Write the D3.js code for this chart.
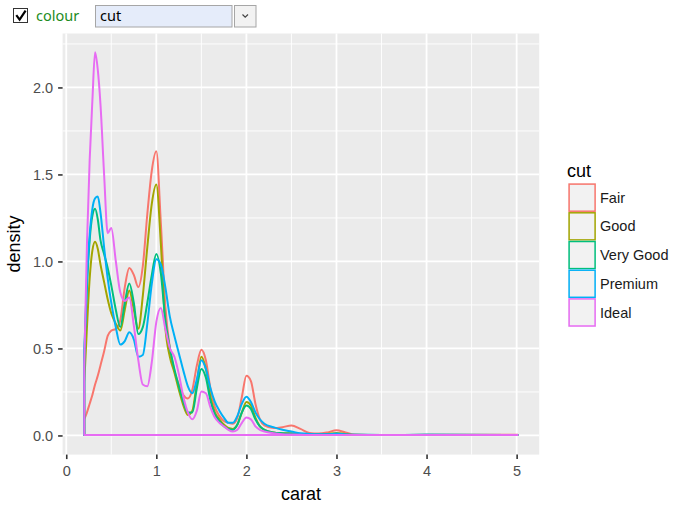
<!DOCTYPE html>
<html>
<head>
<meta charset="utf-8">
<script src="https://cdn.jsdelivr.net/npm/d3@7"></script>
<style>
  html, body { margin: 0; padding: 0; background: #ffffff; }
  svg { display: block; }
</style>
</head>
<body>
<svg id="chart" width="684" height="506"></svg>
<script>
// ---------------- data ----------------
const cuts = ["Fair", "Good", "Very Good", "Premium", "Ideal"];
const colours = ["#F8766D", "#A3A500", "#00BF7D", "#00B0F6", "#E76BF3"];

const carat = [0.20, 0.23, 0.26, 0.29, 0.32, 0.35, 0.38, 0.42, 0.46, 0.50,
  0.55, 0.60, 0.65, 0.70, 0.75, 0.80, 0.85, 0.90, 0.95, 1.00,
  1.05, 1.10, 1.15, 1.20, 1.25, 1.30, 1.35, 1.40, 1.45, 1.50,
  1.55, 1.60, 1.65, 1.70, 1.75, 1.80, 1.85, 1.90, 1.95, 2.00,
  2.05, 2.10, 2.15, 2.20, 2.30, 2.40, 2.50, 2.60, 2.70, 2.80,
  2.90, 3.00, 3.10, 3.20, 3.50, 4.00, 5.01];

const fair = [0.09, 0.13, 0.18, 0.23, 0.29, 0.34, 0.40, 0.48, 0.57, 0.60,
  0.61, 0.66, 0.85, 0.96, 0.92, 0.85, 0.97, 1.27, 1.52, 1.63,
  1.22, 0.74, 0.50, 0.37, 0.29, 0.23, 0.21, 0.26, 0.40, 0.49,
  0.43, 0.27, 0.16, 0.11, 0.08, 0.07, 0.065, 0.10, 0.22, 0.34,
  0.31, 0.18, 0.09, 0.055, 0.04, 0.045, 0.055, 0.035, 0.012, 0.008,
  0.015, 0.028, 0.015, 0.003, 0.0, 0.001, 0.002];

const good = [0.30, 0.62, 0.90, 1.06, 1.11, 1.07, 0.98, 0.88, 0.78, 0.70,
  0.64, 0.60, 0.72, 0.83, 0.72, 0.61, 0.80, 1.08, 1.33, 1.44,
  1.10, 0.62, 0.45, 0.36, 0.26, 0.17, 0.115, 0.14, 0.30, 0.45,
  0.38, 0.22, 0.13, 0.09, 0.06, 0.04, 0.035, 0.06, 0.13, 0.19,
  0.17, 0.10, 0.05, 0.03, 0.015, 0.01, 0.01, 0.005, 0.003, 0.003,
  0.006, 0.012, 0.005, 0.0, 0.0, 0.0, 0.0];

const veryGood = [0.45, 0.85, 1.12, 1.26, 1.30, 1.24, 1.12, 1.04, 0.96, 0.86,
  0.72, 0.62, 0.76, 0.87, 0.76, 0.58, 0.62, 0.76, 0.92, 1.04,
  0.93, 0.66, 0.50, 0.38, 0.28, 0.19, 0.13, 0.13, 0.27, 0.38,
  0.33, 0.20, 0.12, 0.08, 0.05, 0.035, 0.03, 0.06, 0.13, 0.17,
  0.15, 0.09, 0.05, 0.03, 0.015, 0.01, 0.007, 0.004, 0.003, 0.003,
  0.004, 0.006, 0.003, 0.001, 0.0, 0.001, 0.0];

const premium = [0.48, 0.90, 1.15, 1.30, 1.36, 1.37, 1.28, 1.08, 0.90, 0.76,
  0.62, 0.52, 0.54, 0.59, 0.55, 0.45, 0.46, 0.64, 0.87, 1.01,
  0.98, 0.85, 0.68, 0.57, 0.47, 0.37, 0.28, 0.24, 0.32, 0.43,
  0.38, 0.27, 0.19, 0.14, 0.10, 0.07, 0.07, 0.11, 0.18, 0.22,
  0.19, 0.13, 0.09, 0.065, 0.045, 0.03, 0.02, 0.01, 0.006, 0.004,
  0.004, 0.008, 0.003, 0.001, 0.0, 0.001, 0.0];

const ideal = [0.40, 1.10, 1.58, 1.92, 2.20, 2.10, 1.90, 1.50, 1.16, 1.19,
  1.00, 0.82, 0.77, 0.79, 0.63, 0.43, 0.29, 0.28, 0.42, 0.65,
  0.73, 0.61, 0.50, 0.45, 0.35, 0.22, 0.13, 0.09, 0.14, 0.25,
  0.24, 0.16, 0.10, 0.07, 0.05, 0.03, 0.02, 0.03, 0.07, 0.10,
  0.09, 0.05, 0.03, 0.02, 0.01, 0.005, 0.003, 0.001, 0.0, 0.0,
  0.0, 0.0, 0.0, 0.0, 0.0, 0.0, 0.0];

const densities = [fair, good, veryGood, premium, ideal];
const xTicks = [0, 1, 2, 3, 4, 5];
const yTicks = [0, 0.5, 1.0, 1.5, 2.0];
const xTitle = "carat";
const yTitle = "density";
const legendTitle = "cut";

// ---------------- layout ----------------
const panel = { left: 62.6, top: 33.5, right: 539.2, bottom: 454.6 };
const svg = d3.select("#chart");
const FONT = "'Liberation Sans', Arial, sans-serif";

const xMin = d3.min(carat), xMax = d3.max(carat);
const xPad = (xMax - xMin) * 0.05;
const yMax = d3.max(densities, s => d3.max(s));
const yPad = yMax * 0.05;

const x = d3.scaleLinear().domain([xMin - xPad, xMax + xPad]).range([panel.left, panel.right]);
const y = d3.scaleLinear().domain([0 - yPad, yMax + yPad]).range([panel.bottom, panel.top]);

// panel background
svg.append("rect")
  .attr("x", panel.left).attr("y", panel.top)
  .attr("width", panel.right - panel.left).attr("height", panel.bottom - panel.top)
  .attr("fill", "#EBEBEB");

// grid
const grid = svg.append("g");
const xMinor = d3.range(0.5, 5.25, 1);
const yMinor = d3.range(0.25, yMax + yPad, 0.5);
grid.selectAll(".xminor").data(xMinor).join("line")
  .attr("x1", d => x(d)).attr("x2", d => x(d))
  .attr("y1", panel.top).attr("y2", panel.bottom)
  .attr("stroke", "#fff").attr("stroke-width", 0.9);
grid.selectAll(".yminor").data(yMinor).join("line")
  .attr("y1", d => y(d)).attr("y2", d => y(d))
  .attr("x1", panel.left).attr("x2", panel.right)
  .attr("stroke", "#fff").attr("stroke-width", 0.9);
grid.selectAll(".xmajor").data(xTicks).join("line")
  .attr("x1", d => x(d)).attr("x2", d => x(d))
  .attr("y1", panel.top).attr("y2", panel.bottom)
  .attr("stroke", "#fff").attr("stroke-width", 1.8);
grid.selectAll(".ymajor").data(yTicks).join("line")
  .attr("y1", d => y(d)).attr("y2", d => y(d))
  .attr("x1", panel.left).attr("x2", panel.right)
  .attr("stroke", "#fff").attr("stroke-width", 1.8);

// density outlines (polygon outline incl. baseline), baseline snapped to pixel grid
const base = y(0);
const snap = Math.round(base) - base;
const area = d3.area()
  .x((d, i) => x(carat[i]))
  .y0(base)
  .y1(d => y(d))
  .curve(d3.curveMonotoneX);

svg.append("g").attr("transform", `translate(0,${snap})`)
  .selectAll("path").data(densities).join("path")
  .attr("d", d => area(d))
  .attr("fill", "none")
  .attr("stroke", (d, i) => colours[i])
  .attr("stroke-width", 2)
  .attr("stroke-linejoin", "round");

// axes
const xAxis = svg.append("g")
  .attr("transform", `translate(0,${panel.bottom})`)
  .call(d3.axisBottom(x).tickValues(xTicks).tickFormat(d3.format("d")).tickSize(4.5).tickPadding(7));
const yAxis = svg.append("g")
  .attr("transform", `translate(${panel.left},0)`)
  .call(d3.axisLeft(y).tickValues(yTicks).tickFormat(d3.format(".1f")).tickSize(4.5).tickPadding(5));
[xAxis, yAxis].forEach(a => {
  a.select(".domain").remove();
  a.selectAll(".tick line").attr("stroke", "#333333").attr("stroke-width", 1.6);
  a.selectAll(".tick text").attr("fill", "#4D4D4D").attr("font-size", "14.5px").attr("font-family", FONT);
});

// axis titles
svg.append("text")
  .attr("x", (panel.left + panel.right) / 2).attr("y", 500)
  .attr("text-anchor", "middle").attr("font-family", FONT).attr("font-size", "18px")
  .attr("fill", "#000").text(xTitle);
svg.append("text")
  .attr("transform", `translate(20,${(panel.top + panel.bottom) / 2}) rotate(-90)`)
  .attr("text-anchor", "middle").attr("font-family", FONT).attr("font-size", "18px")
  .attr("fill", "#000").text(yTitle);

// legend
const legend = svg.append("g");
legend.append("text").attr("x", 567).attr("y", 177)
  .attr("font-family", FONT).attr("font-size", "18px").attr("fill", "#000").text(legendTitle);
const keyX = 568.3, keyY = 183.3, keyW = 27.6, keyH = 28.7;
const rows = legend.selectAll("g.key").data(cuts).join("g")
  .attr("transform", (d, i) => `translate(${keyX},${keyY + i * keyH})`);
rows.append("rect").attr("width", keyW).attr("height", keyH).attr("fill", "#F2F2F2");
rows.append("rect").attr("x", 0.8).attr("y", 0.8)
  .attr("width", keyW - 1.6).attr("height", keyH - 1.6)
  .attr("fill", "none").attr("stroke", (d, i) => colours[i]).attr("stroke-width", 1.5);
rows.append("text").attr("x", 600 - keyX).attr("y", keyH / 2).attr("dy", "0.35em")
  .attr("font-family", FONT).attr("font-size", "14.5px").attr("fill", "#1A1A1A").text(d => d);

// top controls
const ui = svg.append("g");
const UIFONT = "'Noto Sans', 'Open Sans', sans-serif";
ui.append("rect").attr("x", 13.5).attr("y", 8.5).attr("width", 14).attr("height", 14)
  .attr("fill", "#fff").attr("stroke", "#333").attr("stroke-width", 1);
ui.append("path").attr("d", "M16.3,15.2 L19.6,19.6 L25.6,10.6")
  .attr("fill", "none").attr("stroke", "#000").attr("stroke-width", 2.2);
ui.append("text").attr("x", 36).attr("y", 21).attr("font-family", UIFONT).attr("font-size", "14.5px")
  .attr("fill", "#1E8C1E").text("colour");
ui.append("rect").attr("x", 95.5).attr("y", 5.5).attr("width", 136.5).attr("height", 21.5)
  .attr("fill", "#E5ECFA").attr("stroke", "#A6A6A6").attr("stroke-width", 1);
ui.append("text").attr("x", 100).attr("y", 21).attr("font-family", UIFONT).attr("font-size", "14.5px")
  .attr("fill", "#000").text("cut");
ui.append("rect").attr("x", 234.5).attr("y", 5.5).attr("width", 21.5).attr("height", 21.5)
  .attr("fill", "#F2F2F2").attr("stroke", "#A6A6A6").attr("stroke-width", 1);
ui.append("path").attr("d", "M242.5,14.5 L245.2,17.2 L248,14.5")
  .attr("fill", "none").attr("stroke", "#444").attr("stroke-width", 1.2);
</script>
</body>
</html>
